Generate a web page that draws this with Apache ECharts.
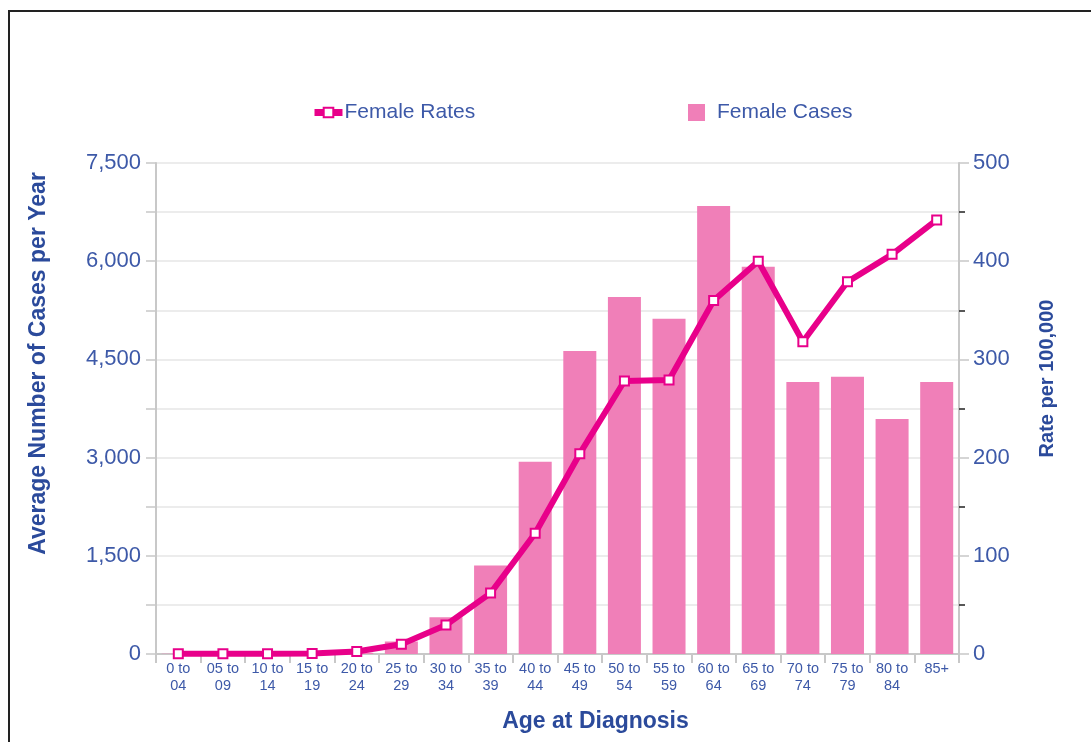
<!DOCTYPE html>
<html>
<head>
<meta charset="utf-8">
<script src="https://cdn.jsdelivr.net/npm/echarts@6/dist/echarts.min.js"></script>
<style>
html, body { margin: 0; padding: 0; background: #fff; }
#myChart { width: 1091px; height: 742px; }
</style>
</head>
<body>
<div id="myChart"></div>
<script>
// age groups
let ageGroups = ["0 to\n04", "05 to\n09", "10 to\n14", "15 to\n19", "20 to\n24", "25 to\n29",
  "30 to\n34", "35 to\n39", "40 to\n44", "45 to\n49", "50 to\n54", "55 to\n59",
  "60 to\n64", "65 to\n69", "70 to\n74", "75 to\n79", "80 to\n84", "85+"];
// average cases per year (left axis)
let femaleCases = [3, 2, 4, 6, 18, 190, 560, 1350, 2935, 4630, 5455, 5120, 6845, 5915, 4155, 4235, 3590, 4155];
// rate per 100,000 (right axis)
let femaleRates = [0.3, 0.2, 0.3, 0.5, 2.5, 10, 29.5, 62, 123, 204, 278, 279, 360, 400, 318, 379, 407, 442];

let blue = "#3d59a8";
let nameBlue = "#2b4a9b";
let font = "Liberation Sans, Arial, sans-serif";

let myChart = echarts.init(document.getElementById("myChart"));
let option = {
  animation: false,
  textStyle: { fontFamily: font },
  graphic: [{
    type: "rect",
    shape: { x: 9, y: 11, width: 1200, height: 900 },
    style: { fill: "none", stroke: "#222", lineWidth: 2 }
  }],
  legend: [
    {
      left: 306, top: 97,
      data: [{ name: "Female Rates", lineStyle: { width: 7 } }],
      itemWidth: 28, itemHeight: 12,
      textStyle: { color: blue, fontSize: 21, fontFamily: font, padding: [0, 0, 0, -3] }
    },
    {
      left: 683, top: 97,
      data: [{ name: "Female Cases", icon: "rect" }],
      itemWidth: 17, itemHeight: 17,
      textStyle: { color: blue, fontSize: 21, fontFamily: font, padding: [0, 0, 0, 7] }
    }
  ],
  grid: { left: 156, right: 132, top: 163, bottom: 88 },
  xAxis: {
    type: "category",
    data: ageGroups,
    name: "Age at Diagnosis",
    nameLocation: "middle",
    nameGap: 56,
    nameTextStyle: { color: nameBlue, fontSize: 23, fontWeight: "bold", fontFamily: font, padding: [0, 0, 0, 76] },
    axisLine: { lineStyle: { color: "#c8c8c8", width: 2 } },
    axisTick: { show: true, length: 9, lineStyle: { color: "#c8c8c8", width: 2 } },
    axisLabel: { color: blue, fontSize: 14.5, lineHeight: 17, margin: 6, interval: 0, fontFamily: font }
  },
  yAxis: [
    {
      type: "value",
      min: 0, max: 7500, interval: 1500,
      name: "Average Number of Cases per Year",
      nameLocation: "middle",
      nameGap: 106,
      nameTextStyle: { color: nameBlue, fontSize: 23, fontWeight: "bold", fontFamily: font, padding: [0, 0, 0, 90] },
      axisLine: { show: true, lineStyle: { color: "#c8c8c8", width: 2 } },
      axisTick: { show: true, length: 10, lineStyle: { color: "#c8c8c8", width: 1.5 } },
      minorTick: { show: true, splitNumber: 2, length: 10, lineStyle: { color: "#c8c8c8", width: 1.5 } },
      axisLabel: {
        color: blue, fontSize: 22, margin: 15, fontFamily: font,
        formatter: function (v) { return v.toLocaleString("en-US"); }
      },
      splitLine: { show: true, lineStyle: { color: "#e6e6e6", width: 1.5 } },
      minorSplitLine: { show: true, lineStyle: { color: "#e6e6e6", width: 1.5 } }
    },
    {
      type: "value",
      min: 0, max: 500, interval: 100,
      name: "Rate per 100,000",
      nameLocation: "middle",
      nameGap: 78,
      nameTextStyle: { color: nameBlue, fontSize: 20, fontWeight: "bold", fontFamily: font, padding: [0, 0, 0, 60] },
      axisLine: { show: true, lineStyle: { color: "#c8c8c8", width: 2 } },
      axisTick: { show: true, length: 10, lineStyle: { color: "#c8c8c8", width: 1.5 } },
      minorTick: { show: true, splitNumber: 2, length: 6, lineStyle: { color: "#222", width: 1.5 } },
      axisLabel: { color: blue, fontSize: 22, margin: 14, fontFamily: font },
      splitLine: { show: false }
    }
  ],
  series: [
    {
      name: "Female Cases",
      type: "bar",
      yAxisIndex: 0,
      barWidth: "74%",
      itemStyle: { color: "#f07fb8" },
      data: femaleCases
    },
    {
      name: "Female Rates",
      type: "line",
      yAxisIndex: 1,
      z: 5,
      symbol: "emptyRect",
      symbolSize: 9,
      lineStyle: { color: "#e8008a", width: 6 },
      itemStyle: { color: "#e8008a", borderWidth: 1.5 },
      data: femaleRates
    }
  ]
};
myChart.setOption(option);
</script>
</body>
</html>
